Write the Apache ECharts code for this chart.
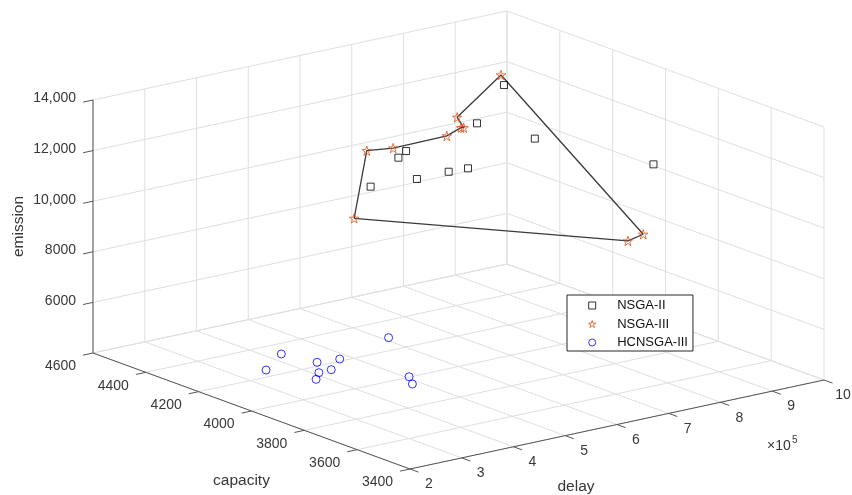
<!DOCTYPE html>
<html>
<head>
<meta charset="utf-8">
<script src="https://cdn.jsdelivr.net/npm/echarts@6/dist/echarts.min.js"></script>
<style>html,body{margin:0;padding:0;background:#fff}#c{width:852px;height:495px}</style>
</head>
<body>
<div id="c"></div>
<script>
// ---------- axes ----------
const capacityRange = [3400, 4600];
const delayRange = [200000, 1000000];
const emissionRange = [4000, 14000];
const capacityTicks = [4600, 4400, 4200, 4000, 3800, 3600, 3400];
const capacityTickLabels = ['4600', '4400', '4200', '4000', '3800', '3600', '3400'];
const delayTicks = [200000, 300000, 400000, 500000, 600000, 700000, 800000, 900000, 1000000];
const delayTickLabels = ['2', '3', '4', '5', '6', '7', '8', '9', '10'];
const emissionTicks = [6000, 8000, 10000, 12000, 14000];
const emissionTickLabels = ['6000', '8000', '10,000', '12,000', '14,000'];

// ---------- data ----------
const nsga2Capacity = [4174, 4159, 4175, 4126, 4096, 4058, 4075, 4237, 4191, 4022];
const nsga2Delay    = [519000, 565000, 588000, 584000, 630000, 648000, 674000, 809000, 845000, 988000];
const nsga2Emission = [10800, 11800, 11900, 11000, 11200, 11400, 13000, 13300, 11200, 10200];

const nsga3Capacity = [4205, 4216, 4163, 4101, 4069, 4098, 4109, 4274, 3861, 3872];
const nsga3Delay    = [503000, 533000, 557000, 629000, 640000, 660000, 653000, 822000, 886000, 862000];
const nsga3Emission = [9500, 12000, 12200, 12600, 13000, 12800, 13200, 13500, 8500, 8300];

const hcCapacity = [4082, 4132, 4077, 3974, 3984, 3943, 4050, 4055, 3854, 3769];
const hcDelay    = [270000, 325000, 366000, 317000, 316600, 325000, 396000, 493000, 430000, 393000];
const hcEmission = [5000, 5200, 4900, 5100, 4800, 5300, 5000, 5400, 4900, 5100];

// ---------- view (orthographic projection of the 3-D box onto a plane) ----------
const capVec = [317, -116];   // capacity 4600 -> 3400
const delayVec = [414, 89];   // delay 2 -> 10 (x10^5)
const emVec = [0, 253];       // emission 4000 -> 14000
function project(cap, delay, em) {
  const a = (capacityRange[1] - cap) / (capacityRange[1] - capacityRange[0]);
  const b = (delay - delayRange[0]) / (delayRange[1] - delayRange[0]);
  const c = (em - emissionRange[0]) / (emissionRange[1] - emissionRange[0]);
  return [a * capVec[0] + b * delayVec[0] + c * emVec[0],
          a * capVec[1] + b * delayVec[1] + c * emVec[1]];
}
function toPlane(caps, delays, ems) { return caps.map((c, i) => project(c, delays[i], ems[i])); }

const FONT = '"Liberation Sans", Arial, Helvetica, sans-serif';
const GRID = '#dfdfdf';
const AXIS = '#555555';
const TEXT = '#383838';
const STAR = 'path://M0,-1 L0.2245,-0.309 L0.951,-0.309 L0.363,0.118 L0.588,0.809 L0,0.382 L-0.588,0.809 L-0.363,0.118 L-0.951,-0.309 L-0.2245,-0.309 Z';
const SQUARE = 'path://M0,0 L1,0 L1,1 L0,1 Z';
const CIRCLE = 'path://M1,0.5 A0.5,0.5 0 1 1 0,0.5 A0.5,0.5 0 1 1 1,0.5 Z';

function renderBox(params, api) {
  const [cMin, cMax] = capacityRange, [dMin, dMax] = delayRange, [eMin, eMax] = emissionRange;
  const P = (c, d, e) => api.coord(project(c, d, e));
  const children = [];
  const line = (p, q, stroke, w) => children.push({
    type: 'line', silent: true,
    shape: { x1: p[0], y1: p[1], x2: q[0], y2: q[1] },
    style: { stroke: stroke, lineWidth: w }
  });
  const text = (p, dx, dy, str, size, align, rotation) => children.push({
    type: 'text', silent: true, x: p[0] + dx, y: p[1] + dy, rotation: rotation || 0,
    style: { text: str, fill: TEXT, fontSize: size, fontFamily: FONT, align: align || 'center', verticalAlign: 'middle' }
  });
  // grid on the back walls and floor
  [eMin].concat(emissionTicks).forEach(e => {
    line(P(cMax, dMin, e), P(cMax, dMax, e), GRID, 1);
    line(P(cMax, dMax, e), P(cMin, dMax, e), GRID, 1);
  });
  delayTicks.forEach(d => {
    line(P(cMax, d, eMin), P(cMax, d, eMax), GRID, 1);
    line(P(cMax, d, eMin), P(cMin, d, eMin), GRID, 1);
  });
  capacityTicks.forEach(c => {
    line(P(c, dMax, eMin), P(c, dMax, eMax), GRID, 1);
    line(P(c, dMin, eMin), P(c, dMax, eMin), GRID, 1);
  });
  // axis lines
  line(P(cMax, dMin, eMin), P(cMax, dMin, eMax), AXIS, 1);
  line(P(cMax, dMin, eMin), P(cMin, dMin, eMin), AXIS, 1);
  line(P(cMin, dMin, eMin), P(cMin, dMax, eMin), AXIS, 1);
  // ticks + labels
  const tickD = 0.024 * (dMax - dMin);
  const tickC = 0.027 * (cMax - cMin);
  emissionTicks.forEach((e, i) => {
    const p = P(cMax, dMin, e);
    line(p, P(cMax, dMin - tickD, e), AXIS, 1);
    text(p, -17, -1.5, emissionTickLabels[i], 14, 'right');
  });
  capacityTicks.forEach((c, i) => {
    const p = P(c, dMin, eMin);
    line(p, P(c, dMin - tickD, eMin), AXIS, 1);
    text(p, -32.5, 13.5, capacityTickLabels[i], 14);
  });
  delayTicks.forEach((d, i) => {
    const p = P(cMin, d, eMin);
    line(p, P(cMin - tickC, d, eMin), AXIS, 1);
    text(p, 19, 15.5, delayTickLabels[i], 14);
  });
  // exponent
  const pe = P(cMin, dMax, eMin);
  text(pe, -57, 66.5, '\u00d710', 14, 'left');
  text(pe, -32, 60, '5', 10, 'left');
  // axis names
  text(P(cMax, dMin, (eMin + eMax) / 2), -74, 0, 'emission', 15.5, 'center', Math.PI / 2);
  text(P((cMin + cMax) / 2, dMin, eMin), -10, 69.5, 'capacity', 15.5);
  text(P(cMin, (dMin + dMax) / 2, eMin), -41, 62.5, 'delay', 15.5);
  return { type: 'group', children: children };
}

const nsga3Plane = toPlane(nsga3Capacity, nsga3Delay, nsga3Emission);
const uMax = capVec[0] + delayVec[0];
const vMin = capVec[1];
const vMax = delayVec[1] + emVec[1];

const chart = echarts.init(document.getElementById('c'), null, { renderer: 'canvas' });
chart.setOption({
  animation: false,
  backgroundColor: '#ffffff',
  grid: { left: 93, top: 11, width: 731, height: 458, containLabel: false },
  xAxis: { type: 'value', min: 0, max: uMax, show: false },
  yAxis: { type: 'value', min: vMin, max: vMax, show: false },
  legend: {
    orient: 'vertical', left: 567, top: 295,
    padding: [2, 5, 0, 21], itemGap: 1.5, itemWidth: 40, itemHeight: 7,
    borderColor: '#262626', borderWidth: 1, borderRadius: 0, backgroundColor: '#ffffff',
    selectedMode: false,
    textStyle: { fontSize: 13, fontFamily: FONT, color: '#111111', lineHeight: 17 },
    data: [
      { name: 'NSGA-II', icon: SQUARE, itemStyle: { color: 'rgba(0,0,0,0)', borderColor: '#000000', borderWidth: 1 } },
      { name: 'NSGA-III', icon: STAR, itemStyle: { color: 'rgba(0,0,0,0)', borderColor: '#D95319', borderWidth: 1 } },
      { name: 'HCNSGA-III', icon: CIRCLE, itemStyle: { color: 'rgba(0,0,0,0)', borderColor: '#0000FF', borderWidth: 1 } }
    ]
  },
  series: [
    { type: 'custom', name: 'box', renderItem: renderBox, data: [[0, 0]], z: 1, silent: true, clip: false },
    {
      name: 'NSGA-II', type: 'scatter', z: 3, silent: true,
      data: toPlane(nsga2Capacity, nsga2Delay, nsga2Emission),
      symbol: 'rect', symbolSize: 7,
      itemStyle: { color: 'rgba(0,0,0,0)', borderColor: '#000000', borderWidth: 1 }
    },
    {
      name: 'front', type: 'line', z: 2, silent: true,
      data: nsga3Plane.concat([nsga3Plane[0]]),
      symbol: 'none', lineStyle: { color: '#3a3a3a', width: 1.3 }
    },
    {
      name: 'NSGA-III', type: 'scatter', z: 4, silent: true,
      data: nsga3Plane,
      symbol: STAR, symbolSize: 9.5,
      itemStyle: { color: 'rgba(0,0,0,0)', borderColor: '#D95319', borderWidth: 1 }
    },
    {
      name: 'HCNSGA-III', type: 'scatter', z: 3, silent: true,
      data: toPlane(hcCapacity, hcDelay, hcEmission),
      symbol: 'circle', symbolSize: 8,
      itemStyle: { color: 'rgba(0,0,0,0)', borderColor: '#0000FF', borderWidth: 1 }
    }
  ]
});
</script>
</body>
</html>
